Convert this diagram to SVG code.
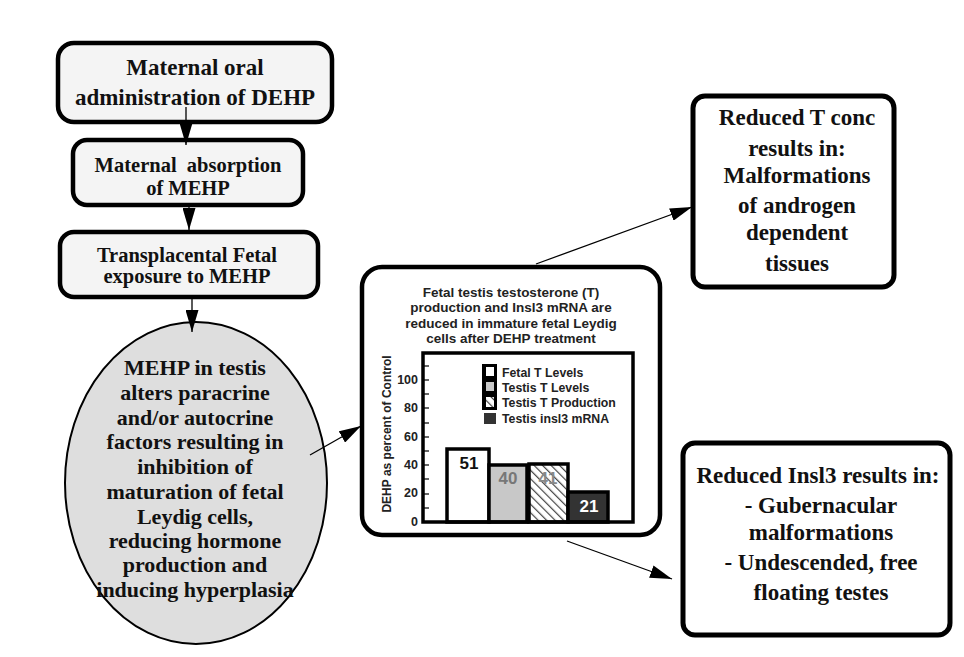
<svg xmlns="http://www.w3.org/2000/svg" width="964" height="657" viewBox="0 0 964 657">
<style>
.serif{font-family:"Liberation Serif","Times New Roman",serif;font-weight:bold;fill:#111;text-anchor:middle}
.sans{font-family:"Liberation Sans",Arial,sans-serif;font-weight:bold;fill:#222}
.box{stroke:#000;stroke-width:4.5;fill:#f4f4f4}
.wbox{stroke:#000;stroke-width:5;fill:#fff}
.conn{stroke:#000;stroke-width:1.3;fill:none;marker-end:url(#ah)}
.bar{stroke:#000;stroke-width:3.5}
</style>
<defs>
<marker id="ah" markerUnits="userSpaceOnUse" markerWidth="22" markerHeight="13" refX="22" refY="6.5" orient="auto">
<path d="M0,0 L22,6.5 L0,13 z" fill="#000"/>
</marker>
<pattern id="hatch" width="6" height="6" patternUnits="userSpaceOnUse" patternTransform="rotate(-45)">
<rect width="6" height="6" fill="#fff"/>
<line x1="0" y1="0" x2="0" y2="6" stroke="#444" stroke-width="2.4"/>
</pattern>
</defs>
<rect width="964" height="657" fill="#fff"/>

<g id="n1">
<rect class="box" x="58" y="43" width="274" height="79" rx="16"/>
<text class="serif" font-size="23" x="195" y="75">Maternal oral</text>
<text class="serif" font-size="23" x="195" y="105">administration of DEHP</text>
</g>
<g id="n2">
<rect class="box" x="73" y="140" width="230" height="65" rx="14"/>
<text class="serif" font-size="20.5" x="188" y="172" xml:space="preserve">Maternal  absorption</text>
<text class="serif" font-size="20.5" x="188" y="195">of MEHP</text>
</g>
<g id="n3">
<rect class="box" x="60" y="232" width="258" height="65" rx="14"/>
<text class="serif" font-size="20.5" x="187" y="262">Transplacental Fetal</text>
<text class="serif" font-size="20.5" x="187" y="283">exposure to MEHP</text>
</g>
<g id="n4">
<ellipse cx="196" cy="483" rx="131" ry="161" fill="#dedede" stroke="#000" stroke-width="2"/>
<g class="serif" font-size="22">
<text x="195" y="375">MEHP in testis</text>
<text x="195" y="400">alters paracrine</text>
<text x="195" y="425">and/or autocrine</text>
<text x="195" y="449">factors resulting in</text>
<text x="195" y="474">inhibition of</text>
<text x="195" y="499">maturation of fetal</text>
<text x="195" y="524">Leydig cells,</text>
<text x="195" y="548">reducing hormone</text>
<text x="195" y="572">production and</text>
<text x="195" y="597">inducing hyperplasia</text>
</g>
</g>

<g id="n5">
<rect x="362" y="267" width="298" height="268" rx="20" fill="#fff" stroke="#000" stroke-width="4.5"/>
<g class="sans" font-size="13.5" text-anchor="middle">
<text x="511" y="297">Fetal testis testosterone (T)</text>
<text x="511" y="312">production and Insl3 mRNA are</text>
<text x="511" y="328">reduced in immature fetal Leydig</text>
<text x="511" y="343">cells after DEHP treatment</text>
</g>
<text class="sans" font-size="12" text-anchor="middle" transform="translate(391,434) rotate(-90)">DEHP as percent of Control</text>
<g class="sans" font-size="12.5" text-anchor="end">
<text x="418" y="384">100</text>
<text x="418" y="412">80</text>
<text x="418" y="441">60</text>
<text x="418" y="469">40</text>
<text x="418" y="497">20</text>
<text x="418" y="526">0</text>
</g>
<g stroke="#000" stroke-width="1.2">
<line x1="424" y1="508" x2="429" y2="508"/>
<line x1="424" y1="494" x2="429" y2="494"/>
<line x1="424" y1="479" x2="429" y2="479"/>
<line x1="424" y1="465" x2="429" y2="465"/>
<line x1="424" y1="451" x2="429" y2="451"/>
<line x1="424" y1="437" x2="429" y2="437"/>
<line x1="424" y1="423" x2="429" y2="423"/>
<line x1="424" y1="408" x2="429" y2="408"/>
<line x1="424" y1="394" x2="429" y2="394"/>
<line x1="424" y1="380" x2="429" y2="380"/>
<line x1="424" y1="366" x2="429" y2="366"/>
</g>
<rect class="bar" x="447" y="449" width="42" height="73" fill="#fff"/>
<rect class="bar" x="489" y="465" width="38" height="57" fill="#c8c8c8"/>
<rect class="bar" x="529" y="464" width="39" height="58" fill="url(#hatch)"/>
<rect class="bar" x="568" y="492" width="40" height="30" fill="#333"/>
<rect x="423" y="353" width="210" height="169" fill="none" stroke="#000" stroke-width="3.5"/>
<g class="sans" font-size="17" text-anchor="middle">
<text x="469" y="469" fill="#111">51</text>
<text x="508" y="484" fill="#777">40</text>
<text x="548" y="484" fill="#888">41</text>
<text x="589" y="512" fill="#fff">21</text>
</g>
<rect x="482" y="364" width="15" height="46" fill="#000"/>
<rect x="486" y="367" width="8" height="9" fill="#fff"/>
<rect x="486" y="382" width="8" height="9" fill="#c8c8c8"/>
<rect x="486" y="397" width="8" height="10" fill="url(#hatch)"/>
<rect x="484" y="413" width="12" height="11" fill="#333"/>
<g class="sans" font-size="12.3">
<text x="502" y="377">Fetal T Levels</text>
<text x="502" y="392">Testis T Levels</text>
<text x="502" y="407">Testis T Production</text>
<text x="502" y="423">Testis insl3 mRNA</text>
</g>
</g>

<g id="n6">
<rect class="wbox" x="693" y="96" width="201" height="191" rx="12"/>
<g class="serif" font-size="23">
<text x="797" y="125">Reduced T conc</text>
<text x="797" y="156">results in:</text>
<text x="797" y="183">Malformations</text>
<text x="797" y="213">of androgen</text>
<text x="797" y="240">dependent</text>
<text x="797" y="271">tissues</text>
</g>
</g>
<g id="n7">
<rect class="wbox" x="683" y="443" width="267" height="192" rx="12"/>
<g class="serif" font-size="23">
<text x="818" y="483">Reduced Insl3 results in:</text>
<text x="821" y="513">- Gubernacular</text>
<text x="821" y="540">malformations</text>
<text x="821" y="570">- Undescended, free</text>
<text x="821" y="600">floating testes</text>
</g>
</g>

<g id="connectors">
<line class="conn" x1="186" y1="107" x2="186" y2="145"/>
<line class="conn" x1="189" y1="205" x2="189" y2="230"/>
<line class="conn" x1="192" y1="297" x2="192" y2="332"/>
<line class="conn" x1="310" y1="455" x2="361" y2="426"/>
<line class="conn" x1="536" y1="264" x2="692" y2="207"/>
<line class="conn" x1="567" y1="541" x2="672" y2="579"/>
</g>
</svg>
